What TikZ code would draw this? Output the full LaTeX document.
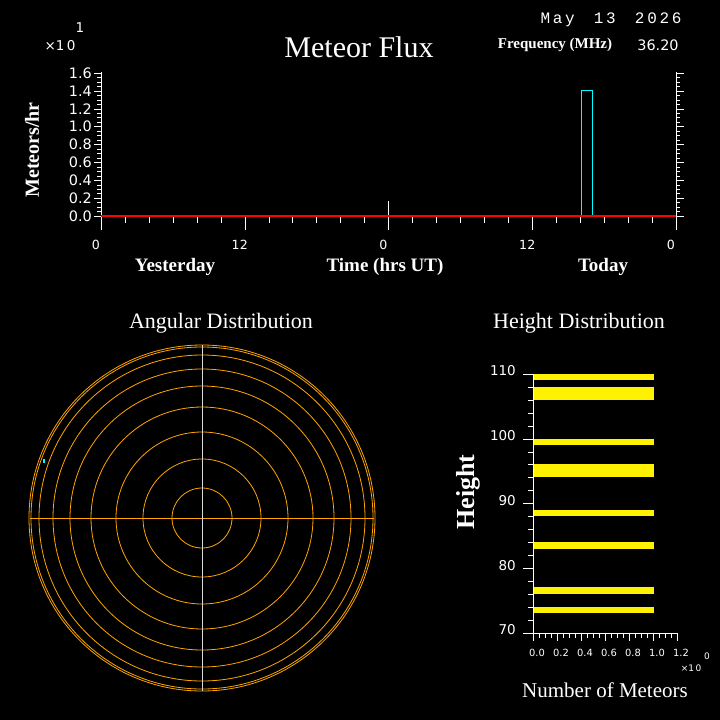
\documentclass[tikz,border=0pt]{standalone}
\usepackage{fontspec}
\setmainfont{Liberation Serif}
\newfontfamily\tk{DejaVu Sans}[Scale=0.9]
\newfontfamily\mono{Liberation Mono}
\definecolor{orng}{RGB}{255,165,0}
\definecolor{cyn}{RGB}{0,255,255}
\begin{document}
\begin{tikzpicture}[x=1pt,y=-1pt,
  lbl/.style={text=white,font=\tk\fontsize{11}{11}\selectfont,inner sep=0},
  ttl/.style={text=white,font=\fontsize{22}{22}\selectfont,inner sep=0},
  ax/.style={white,line width=0.8pt},
  ring/.style={orng,line width=0.8pt},
  bar/.style={fill=yellow,draw=none}]
\fill[black] (0,0) rectangle (720,720);
\useasboundingbox (0,0) rectangle (720,720);
% ---- top plot
\node[ttl,font=\fontsize{30}{30}\selectfont] (title) at (359,47) {Meteor Flux};
\node[text=white,font=\mono\fontsize{16}{16}\selectfont,inner sep=0] (date) at (611,20) {M\,a\,y\ \ 1\,3\ \ 2\,0\,2\,6};
\node[text=white,font=\bfseries\fontsize{15}{15}\selectfont,inner sep=0] (freq) at (555,45) {Frequency (MHz)};
\node[lbl,font=\tk\fontsize{16}{16}\selectfont] (fv) at (658,45) {36.20};
\node[lbl,font=\tk\fontsize{15}{15}\selectfont] (x10a) at (60,46) {×1\,0};
\node[lbl,font=\tk\fontsize{15}{15}\selectfont] (x10e) at (80,28) {1};
\node[ttl,rotate=90,font=\bfseries\fontsize{20}{20}\selectfont] (ylab) at (32,150) {Meteors/hr};
\draw[ax] (101,72) -- (101,216);
\draw[ax] (676,72) -- (676,216);
\foreach \i in {0,...,32}{
  \pgfmathsetmacro\yy{216-\i*143/32}
  \draw[white] (101,\yy) -- (97,\yy);
  \draw[white] (676,\yy) -- (680,\yy);}
\foreach \i/\t in {0/0.0,1/0.2,2/0.4,3/0.6,4/0.8,5/1.0,6/1.2,7/1.4,8/1.6}{
  \pgfmathsetmacro\yy{216-\i*143/8}
  \draw[white] (101,\yy) -- (94,\yy);
  \draw[white] (676,\yy) -- (684,\yy);
  \node[lbl,font=\tk\fontsize{16}{16}\selectfont,anchor=east] (yl\i) at (92,\yy) {\t};}
\foreach \i in {0,...,24}{
  \pgfmathsetmacro\xx{101+\i*575/24}
  \draw[white] (\xx,216) -- (\xx,223);}
\foreach \i/\t in {0/0,1/12,2/0,3/12,4/0}{
  \pgfmathsetmacro\xx{101+\i*575/4}
  \draw[white] (\xx,216) -- (\xx,230);
  \node[lbl,font=\tk\fontsize{14}{14}\selectfont] (xl\i) at (\xx-5,245) {\t};}
\draw[white] (388,216) -- (388,201);
\draw[cyn,line width=0.8pt] (581,216) -- (581,90) -- (592,90) -- (592,216);
\draw[red,line width=1.2pt] (101,216) -- (676,216);
\node[ttl,font=\bfseries\fontsize{19}{19}\selectfont] (yest) at (175,267) {Yesterday};
\node[ttl,font=\bfseries\fontsize{19}{19}\selectfont] (time) at (385,267) {Time (hrs UT)};
\node[ttl,font=\bfseries\fontsize{19}{19}\selectfont] (today) at (603,267) {Today};
% ---- angular
\node[ttl] (ang) at (221,323) {Angular Distribution};
\foreach \r in {30,59,86,111,132,149,163,171,173}
  \draw[ring] (202,518) circle (\r);
\draw[ring] (30,518) -- (374,518);
\draw[white!70!gray,line width=0.6pt] (202,345) -- (202,691);
\fill[cyn] (43,459) rectangle (45,463);
% ---- height
\node[ttl] (hd) at (579,323) {Height Distribution};
\node[ttl,rotate=90,font=\bfseries\fontsize{26}{26}\selectfont] (hlab) at (468,492) {Height};
\foreach \a/\b in {374/380,387/400,439/445,464/477,510/516,542/549,587/594,607/613}
  \fill[yellow] (533,\a) rectangle (654,\b);
\draw[ax] (533,374) -- (533,633) -- (677,633);
\foreach \i in {0,...,20}{
  \pgfmathsetmacro\yy{633-\i*259/20}
  \draw[white] (533,\yy) -- (528,\yy);}
\foreach \i/\t in {0/70,1/80,2/90,3/100,4/110}{
  \pgfmathsetmacro\yy{633-\i*259/4}
  \draw[white] (533,\yy) -- (523,\yy);
  \node[lbl,font=\tk\fontsize{15}{15}\selectfont,anchor=east] (hl\i) at (516,\yy-3) {\t};}
\foreach \i in {0,...,24}{
  \pgfmathsetmacro\xx{533+\i*144/24}
  \draw[white] (\xx,633) -- (\xx,638);}
\foreach \i/\t in {0/0.0,1/0.2,2/0.4,3/0.6,4/0.8,5/1.0,6/1.2}{
  \pgfmathsetmacro\xx{533+\i*24}
  \draw[white] (\xx,633) -- (\xx,641);
  \node[lbl,font=\tk\fontsize{11}{11}\selectfont] (nl\i) at (\xx+4,653) {\t};}
\node[lbl,font=\tk\fontsize{10}{10}\selectfont] (x10b) at (691,668) {×1\,0};
\node[lbl,font=\tk\fontsize{10}{10}\selectfont] (x10f) at (707,656) {0};
\node[ttl,font=\fontsize{21}{21}\selectfont] (num) at (605,690) {Number\ of\ Meteors};
\end{tikzpicture}
\end{document}
